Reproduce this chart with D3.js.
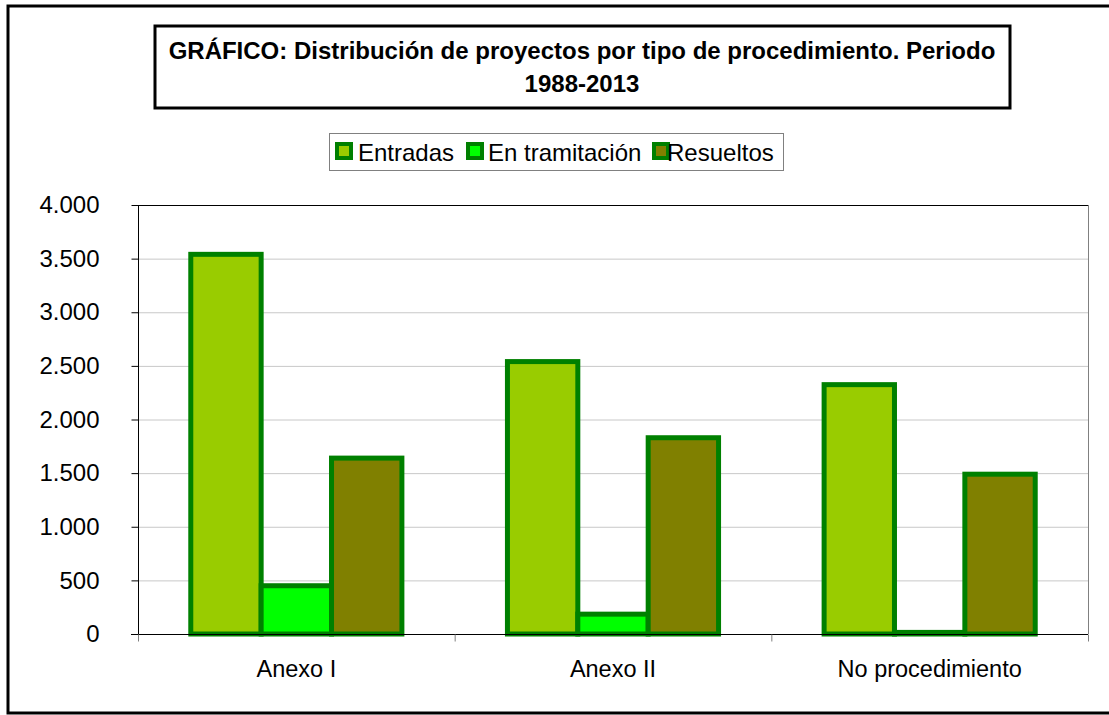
<!DOCTYPE html>
<html>
<head>
<meta charset="utf-8">
<script src="https://cdn.jsdelivr.net/npm/d3@7"></script>
<style>
  body { margin: 0; background: #fff; }
  text { font-family: "Liberation Sans", Arial, sans-serif; }
</style>
</head>
<body>
<script>
// chart data
var categories = ["Anexo I", "Anexo II", "No procedimiento"];
var seriesNames = ["Entradas", "En tramitación", "Resueltos"];
var entradas = [3540, 2540, 2325];
var enTramitacion = [450, 185, 15];
var resueltos = [1640, 1830, 1490];
var yTicks = [0, 500, 1000, 1500, 2000, 2500, 3000, 3500, 4000];
var titleLines = ["GRÁFICO: Distribución de proyectos por tipo de procedimiento. Periodo", "1988-2013"];

var fills = ["#99cc00", "#00ff00", "#808000"];
var strokeCol = "#008000";

var w = 1109, h = 715;
var plot = {left: 138, right: 1088, top: 205, bottom: 634};

var svg = d3.select("body").append("svg")
  .attr("width", w)
  .attr("height", h);

// outer frame
svg.append("rect")
  .attr("x", 8).attr("y", 6)
  .attr("width", 1110).attr("height", 707)
  .attr("fill", "#fff")
  .attr("stroke", "#000")
  .attr("stroke-width", 3);

// title box
svg.append("rect")
  .attr("x", 155).attr("y", 26)
  .attr("width", 855).attr("height", 82)
  .attr("fill", "#fff")
  .attr("stroke", "#000")
  .attr("stroke-width", 3);

svg.selectAll(".title")
  .data(titleLines)
  .enter().append("text")
  .attr("class", "title")
  .attr("x", 582)
  .attr("y", function(d, i) { return 59 + i * 33; })
  .attr("text-anchor", "middle")
  .attr("font-size", 24)
  .attr("font-weight", "bold")
  .text(function(d) { return d; });

// scales
var x0 = d3.scaleBand()
  .domain(categories)
  .range([plot.left, plot.right]);

var barW = x0.bandwidth() / 4.5;
var x1 = d3.scaleBand()
  .domain(seriesNames)
  .range([barW * 0.75, barW * 3.75]);

var y = d3.scaleLinear()
  .domain([0, 4000])
  .range([plot.bottom, plot.top]);

// gridlines
svg.append("g")
  .selectAll("line")
  .data(yTicks.slice(1, -1))
  .enter().append("line")
  .attr("x1", plot.left).attr("x2", plot.right)
  .attr("y1", function(d) { return y(d) + 0.5; })
  .attr("y2", function(d) { return y(d) + 0.5; })
  .attr("stroke", "#c8c8c8")
  .attr("stroke-width", 1);

// plot area border (top and right)
svg.append("line")
  .attr("x1", plot.left).attr("x2", plot.right)
  .attr("y1", plot.top + 0.5).attr("y2", plot.top + 0.5)
  .attr("stroke", "#000");
svg.append("line")
  .attr("x1", plot.right + 0.5).attr("x2", plot.right + 0.5)
  .attr("y1", plot.top).attr("y2", plot.bottom)
  .attr("stroke", "#808080");

// bars
var seriesData = [entradas, enTramitacion, resueltos];
var rows = categories.map(function(c, i) {
  return seriesNames.map(function(s, j) {
    return {cat: c, name: s, value: seriesData[j][i], color: fills[j]};
  });
});

var groups = svg.selectAll(".grp")
  .data(rows)
  .enter().append("g")
  .attr("class", "grp")
  .attr("transform", function(d, i) { return "translate(" + x0(categories[i]) + ",0)"; });

groups.selectAll("rect")
  .data(function(d) { return d; })
  .enter().append("rect")
  .attr("x", function(d) { return x1(d.name); })
  .attr("y", function(d) { return y(d.value); })
  .attr("width", x1.bandwidth())
  .attr("height", function(d) { return y(0) - y(d.value); })
  .attr("fill", function(d) { return d.color; })
  .attr("stroke", strokeCol)
  .attr("stroke-width", 5);

// y axis
var yAxis = svg.append("g")
  .attr("transform", "translate(" + (plot.left + 0.5) + ",0)")
  .call(d3.axisLeft(y).tickValues(yTicks).tickSize(7).tickPadding(32)
    .tickFormat(function(d) { return d3.format(",")(d).replace(/,/g, "."); }));
yAxis.select(".domain").attr("d", "M0," + plot.top + "V" + (plot.bottom + 7));
yAxis.selectAll("text")
  .attr("font-size", 24)
  .attr("font-family", "Liberation Sans, Arial, sans-serif")
  .attr("fill", "#000");
yAxis.selectAll("line").attr("stroke", "#000");

// x axis
var xAxis = svg.append("g")
  .attr("transform", "translate(0," + (plot.bottom + 0.5) + ")");
xAxis.append("line")
  .attr("x1", plot.left - 7).attr("x2", plot.right)
  .attr("stroke", "#000");
xAxis.selectAll(".xtick")
  .data(categories.map(function(c) { return x0(c); }).concat([plot.right]))
  .enter().append("line")
  .attr("class", "xtick")
  .attr("x1", function(d) { return d + 0.5; })
  .attr("x2", function(d) { return d + 0.5; })
  .attr("y1", 0).attr("y2", 7)
  .attr("stroke", "#808080");
xAxis.selectAll(".xlab")
  .data(categories)
  .enter().append("text")
  .attr("class", "xlab")
  .attr("x", function(d) { return x0(d) + x0.bandwidth() / 2; })
  .attr("y", 42)
  .attr("text-anchor", "middle")
  .attr("font-size", 23.5)
  .text(function(d) { return d; });

// legend
var legend = svg.append("g");
legend.append("rect")
  .attr("x", 329.5).attr("y", 133.5)
  .attr("width", 454).attr("height", 37)
  .attr("fill", "#fff")
  .attr("stroke", "#808080");

var legX = [335, 466, 652];
var items = legend.selectAll(".leg")
  .data(seriesNames)
  .enter().append("g")
  .attr("class", "leg")
  .attr("transform", function(d, i) { return "translate(" + legX[i] + ",142)"; });
items.append("rect")
  .attr("x", 2).attr("y", 2)
  .attr("width", 14).attr("height", 14)
  .attr("fill", function(d, i) { return fills[i]; })
  .attr("stroke", strokeCol)
  .attr("stroke-width", 4);
items.append("text")
  .attr("x", function(d, i) { return i == 2 ? 15 : (i == 1 ? 22 : 23); })
  .attr("y", 19)
  .attr("font-size", 24)
  .text(function(d) { return d; });
</script>
</body>
</html>
